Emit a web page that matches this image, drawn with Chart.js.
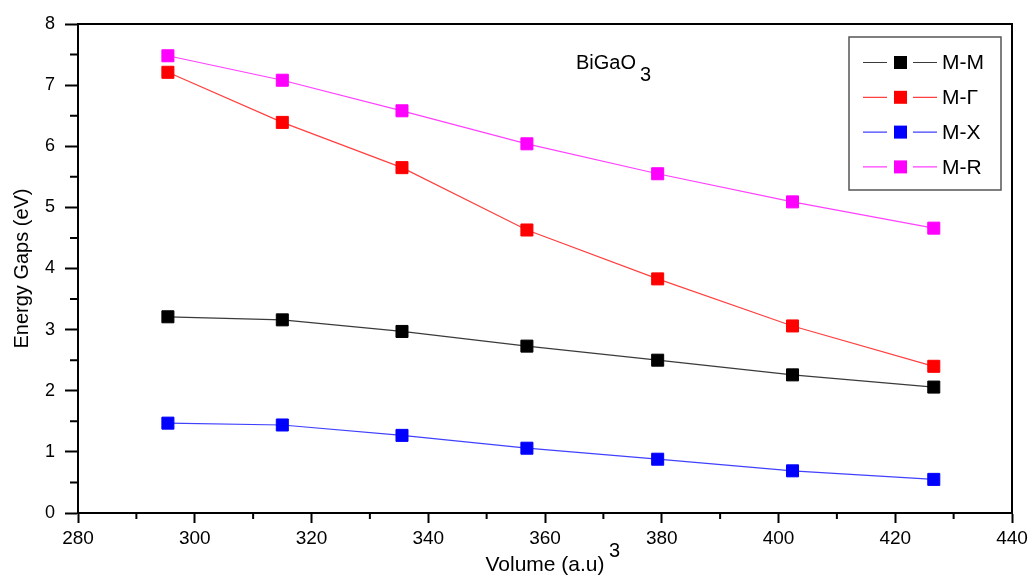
<!DOCTYPE html>
<html>
<head>
<meta charset="utf-8">
<title>BiGaO3 energy gaps</title>
<script src="https://cdn.jsdelivr.net/npm/chart.js@4/dist/chart.umd.min.js"></script>
<style>
    body { margin: 0; background: #fff; }
    #wrap { position: relative; width: 1034px; height: 578px; }
</style>
</head>
<body>
<div id="wrap"><canvas id="gapChart"></canvas></div>
<script>
// Values
const volumes = [295.4, 315.0, 335.5, 356.9, 379.3, 402.4, 426.6];
const gapMM = [3.21, 3.16, 2.97, 2.73, 2.50, 2.26, 2.06];
const gapMG = [7.21, 6.39, 5.65, 4.63, 3.83, 3.06, 2.40];
const gapMX = [1.47, 1.44, 1.27, 1.06, 0.88, 0.69, 0.55];
const gapMR = [7.48, 7.08, 6.58, 6.04, 5.55, 5.09, 4.66];
const seriesNames = ['M-M', 'M-Γ', 'M-X', 'M-R'];
const xTicks = [280, 300, 320, 340, 360, 380, 400, 420, 440];
const yTicks = [0, 1, 2, 3, 4, 5, 6, 7, 8];

const FONT = 'Arial, "Liberation Sans", sans-serif';

function points(ys) {
    return ys.map((y, i) => ({ x: volumes[i], y: y }));
}

function makeSet(label, ys, lineColor, markColor) {
    return {
        label: label,
        data: points(ys),
        borderColor: lineColor,
        borderWidth: 1.2,
        backgroundColor: markColor,
        pointStyle: 'rect',
        pointRadius: 8.5,
        pointHoverRadius: 8.5,
        pointBackgroundColor: markColor,
        pointBorderColor: markColor,
        pointBorderWidth: 1,
        tension: 0
    };
}

// frame, minor ticks, title text, superscript and the legend box
const decorPlugin = {
    id: 'decor',
    afterDraw(chart) {
        const ctx = chart.ctx;
        const area = chart.chartArea;
        const xs = chart.scales.x;
        const ys = chart.scales.y;
        ctx.save();
        ctx.strokeStyle = '#000';
        ctx.lineWidth = 2;

        // top and right frame lines
        ctx.beginPath();
        ctx.moveTo(area.left, area.top);
        ctx.lineTo(area.right, area.top);
        ctx.lineTo(area.right, area.bottom);
        ctx.stroke();

        // minor ticks
        ctx.beginPath();
        for (let v = xTicks[0] + 10; v < xTicks[xTicks.length - 1]; v += 20) {
            const px = xs.getPixelForValue(v);
            ctx.moveTo(px, area.bottom);
            ctx.lineTo(px, area.bottom + 6);
        }
        for (let v = 0.5; v < yTicks[yTicks.length - 1]; v += 1) {
            const py = ys.getPixelForValue(v);
            ctx.moveTo(area.left, py);
            ctx.lineTo(area.left - 8, py);
        }
        ctx.stroke();

        // compound name inside the plot
        ctx.fillStyle = '#000';
        ctx.textBaseline = 'middle';
        ctx.textAlign = 'left';
        ctx.font = '20px ' + FONT;
        ctx.fillText('BiGaO', 576, 63);
        const w = ctx.measureText('BiGaO').width;
        ctx.fillText('3', 576 + w + 4, 75);

        // superscript after the x axis title
        ctx.font = '20px ' + FONT;
        ctx.fillText('3', 609, 551);

        // legend
        const lx = 849, ly = 37, lw = 152, lh = 153;
        ctx.strokeStyle = '#555';
        ctx.lineWidth = 1.5;
        ctx.strokeRect(lx, ly, lw, lh);
        ctx.font = '21px ' + FONT;
        chart.data.datasets.forEach((ds, i) => {
            const cy = 62.5 + i * 34.8;
            ctx.strokeStyle = ds.borderColor;
            ctx.lineWidth = 1.2;
            ctx.beginPath();
            ctx.moveTo(863, cy);
            ctx.lineTo(887, cy);
            ctx.moveTo(913, cy);
            ctx.lineTo(937, cy);
            ctx.stroke();
            ctx.fillStyle = ds.pointBackgroundColor;
            ctx.fillRect(894, cy - 6.5, 13, 13);
            ctx.fillStyle = '#000';
            ctx.fillText(ds.label, 942, cy + 1);
        });
        ctx.restore();
    }
};

const ctx = document.getElementById('gapChart').getContext('2d');
const gapChart = new Chart(ctx, {
    type: 'line',
    data: {
        datasets: [
            makeSet(seriesNames[0], gapMM, '#3a3a3a', '#000000'),
            makeSet(seriesNames[1], gapMG, '#ff4040', '#ff0000'),
            makeSet(seriesNames[2], gapMX, '#4040ff', '#0000ff'),
            makeSet(seriesNames[3], gapMR, '#ff40ff', '#ff00ff')
        ]
    },
    options: {
        responsive: true,
        maintainAspectRatio: false,
        animation: false,
        layout: {
            padding: { top: 24, right: 22, left: 0, bottom: 0 }
        },
        plugins: {
            legend: { display: false },
            tooltip: { enabled: false }
        },
        scales: {
            x: {
                type: 'linear',
                min: 280,
                max: 440,
                afterBuildTicks: (scale) => {
                    scale.ticks = xTicks.map(v => ({ value: v }));
                },
                afterFit: (scale) => { scale.height = 65; },
                ticks: {
                    color: '#000',
                    font: { family: FONT, size: 19 },
                    padding: 4,
                    maxRotation: 0
                },
                grid: {
                    drawOnChartArea: false,
                    tickLength: 10,
                    tickWidth: 2,
                    tickColor: '#000'
                },
                border: { color: '#000', width: 2 },
                title: {
                    display: true,
                    text: 'Volume (a.u)',
                    color: '#000',
                    font: { family: FONT, size: 21 },
                    padding: { top: 0, bottom: 0 }
                }
            },
            y: {
                min: 0,
                max: 8,
                afterBuildTicks: (scale) => {
                    scale.ticks = yTicks.map(v => ({ value: v }));
                },
                afterFit: (scale) => { scale.width = 78; },
                ticks: {
                    color: '#000',
                    font: { family: FONT, size: 18 },
                    padding: 10
                },
                grid: {
                    drawOnChartArea: false,
                    tickLength: 13,
                    tickWidth: 2,
                    tickColor: '#000'
                },
                border: { color: '#000', width: 2 },
                title: {
                    display: true,
                    text: 'Energy Gaps (eV)',
                    color: '#000',
                    font: { family: FONT, size: 20 },
                    padding: { top: 10, bottom: 0 }
                }
            }
        }
    },
    plugins: [decorPlugin]
});
</script>
</body>
</html>
